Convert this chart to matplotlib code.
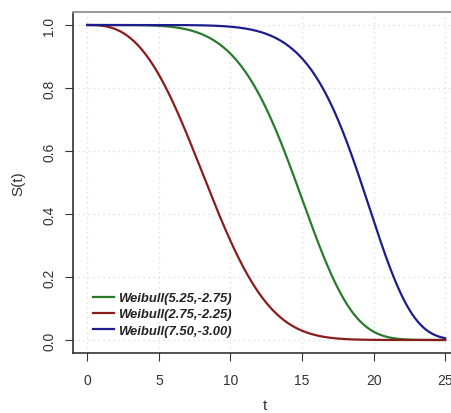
import numpy as np
import matplotlib
matplotlib.use("Agg")
import matplotlib.pyplot as plt

plt.rcParams['font.family'] = ['Liberation Sans', 'DejaVu Sans']

# Weibull survival curves: S(t) = exp(-(exp(b) * t)^a)
shapes = [5.25, 2.75, 7.50]
log_rates = [-2.75, -2.25, -3.00]
colors = ['#2b7a2b', '#8b1c1c', '#1c1c8e']
labels = ['Weibull(5.25,-2.75)', 'Weibull(2.75,-2.25)', 'Weibull(7.50,-3.00)']

x_ticks = [0, 5, 10, 15, 20, 25]
y_ticks = [0.0, 0.2, 0.4, 0.6, 0.8, 1.0]

t = np.linspace(0, 25, 500)

fig = plt.figure(figsize=(4.52, 4.14), dpi=100)
ax = fig.add_axes([0.1615, 0.1459, 0.855, 0.8217])

for a, b, c, lab in zip(shapes, log_rates, colors, labels):
    surv = np.exp(-(np.exp(b) * t) ** a)
    ax.plot(t, surv, color=c, lw=1.6, label=lab)

ax.set_xlim(-1, 26)
ax.set_ylim(-0.04, 1.04)
ax.set_xticks(x_ticks)
ax.set_yticks(y_ticks)
ax.set_xticklabels([str(v) for v in x_ticks])
ax.set_yticklabels(['%.1f' % v for v in y_ticks], rotation=90, va='center')
ax.grid(True, color='#d8d8d8', linestyle=(0, (1, 3)), lw=0.9)

ax.tick_params(labelsize=10, colors='#333333', length=6, direction='out', pad=6)
ax.tick_params(axis='x', pad=9)
for side in ['left', 'bottom']:
    ax.spines[side].set_color('#333333')
    ax.spines[side].set_linewidth(1.2)
ax.spines['top'].set_color('#999999')
ax.spines['top'].set_linewidth(1.4)
ax.spines['right'].set_visible(False)

# axis titles placed in figure coordinates
fig.text(265 / 452, 1 - 406 / 414, 't', fontsize=11, color='#333333',
         ha='center', va='center')
ax.set_ylabel('S(t)', fontsize=11, color='#333333', labelpad=12)

leg = ax.legend(loc='lower left', bbox_to_anchor=(0.022, 0.012), frameon=False,
                handlelength=1.6, handletextpad=0.3, labelspacing=0.32,
                prop={'weight': 'bold', 'style': 'italic', 'size': 9.4})
for txt in leg.get_texts():
    txt.set_color('#222222')

fig.savefig('out.png', dpi=100)
